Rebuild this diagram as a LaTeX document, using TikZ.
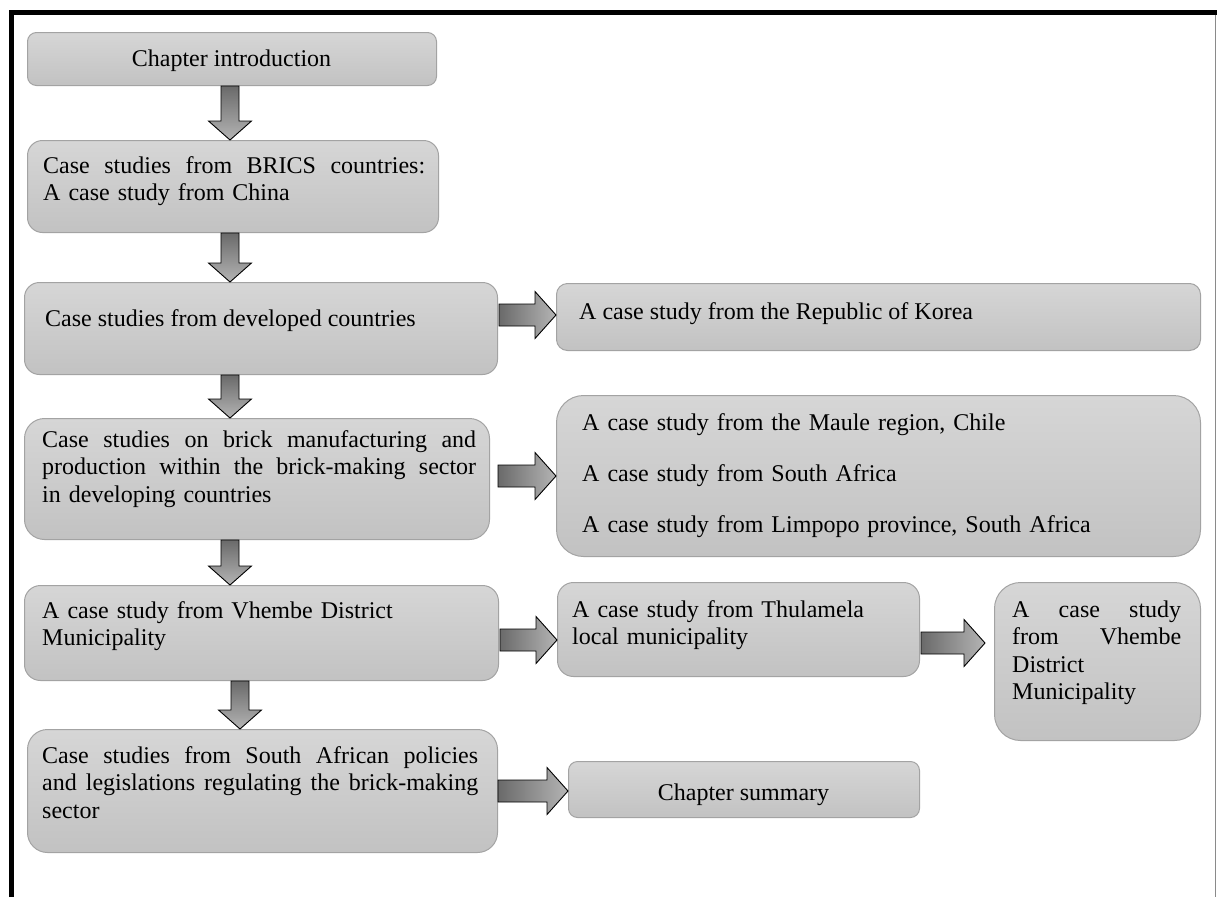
\documentclass[tikz,border=0pt]{standalone}
\usepackage{fontspec}
\setmainfont{Liberation Serif}
\usetikzlibrary{calc}
\definecolor{boxtop}{HTML}{D6D6D6}
\definecolor{boxbot}{HTML}{C2C2C2}
\definecolor{boxline}{HTML}{A3A3A3}
\definecolor{arrdark}{HTML}{6A6A6A}
\definecolor{arrlight}{HTML}{B4B4B4}
\definecolor{frameright}{HTML}{8A8A8A}
\newcommand\J[2]{\leavevmode\hbox to #1{\spaceskip=0.25em plus 1fil\relax\xspaceskip=0.25em plus 1fil\relax #2}}
\newcommand\blkdown[3]{%
  \coordinate (bdx) at (#3,0);
  \shadedraw[arrd] let \p1=(#1.south -| bdx), \p2=(#2.north -| bdx) in
    (\x1-9pt,\y1) -- (\x1+9pt,\y1) -- (\x1+9pt,\y2+19pt) -- (\x1+21.5pt,\y2+19pt)
    -- (\x2,\y2) -- (\x1-21.5pt,\y2+19pt) -- (\x1-9pt,\y2+19pt) -- cycle;}
\newcommand\blkright[5]{%
  \coordinate (bry) at (0,#3);
  \shadedraw[arrr] let \p1=(#1.east |- bry), \p2=(#2.west |- bry) in
    (\x1+#4,\y1-11pt) -- (\x2-#5-21pt,\y1-11pt) -- (\x2-#5-21pt,\y1-23.5pt)
    -- (\x2-#5,\y1) -- (\x2-#5-21pt,\y1+23.5pt) -- (\x2-#5-21pt,\y1+11pt)
    -- (\x1+#4,\y1+11pt) -- cycle;}
\tikzset{
  box/.style={rectangle, draw=boxline, line width=1pt, top color=boxtop,
    bottom color=boxbot, inner sep=0pt, anchor=north west},
  txt/.style={inner sep=0pt, anchor=base west, align=left,
    font=\fontsize{24}{27.5}\selectfont},
  arrd/.style={draw=black, line width=0.9pt, top color=arrdark,
    bottom color=arrlight, line join=miter},
  arrr/.style={draw=black, line width=0.9pt, left color=arrdark,
    right color=arrlight, line join=miter},
}
\begin{document}
\begin{tikzpicture}[x=1pt,y=-1pt]
\useasboundingbox (0,0) rectangle (1217,897);
% frame
\draw[line width=5pt, black] (11,897) -- (11,12) -- (1217,12);
\draw[line width=1.2pt, frameright] (1215.5,14.5) -- (1215.5,897);

% left column boxes
\node[box, minimum width=409pt, minimum height=53pt, rounded corners=9pt] (b1) at (27,32) {};
\node[txt, anchor=base] (t1) at (231.5,66) {Chapter introduction};

\node[box, minimum width=411pt, minimum height=92pt, rounded corners=15pt] (b2) at (27,140) {};
\node[txt, text width=382pt] (t2) at (43,173) {\J{382pt}{Case studies from BRICS countries:}\\A case study from China};

\node[box, minimum width=473pt, minimum height=92pt, rounded corners=15pt] (b3) at (24,282) {};
\node[txt] (t3) at (45,326) {Case studies from developed countries};

\node[box, minimum width=465pt, minimum height=121pt, rounded corners=20pt] (b4) at (24,418) {};
\node[txt, text width=434pt] (t4) at (42,447) {\J{434pt}{Case studies on brick manufacturing and}\\\J{434pt}{production within the brick-making sector}\\in developing countries};

\node[box, minimum width=474pt, minimum height=95pt, rounded corners=16pt] (b5) at (24,585) {};
\node[txt, text width=440pt] (t5) at (42,618) {A case study from Vhembe District\\Municipality};

\node[box, minimum width=470pt, minimum height=123pt, rounded corners=20pt] (b6) at (27,729) {};
\node[txt, text width=436pt] (t6) at (42,763) {\J{436pt}{Case studies from South African policies}\\\J{436pt}{and legislations regulating the brick-making}\\sector};

% right column boxes
\node[box, minimum width=644pt, minimum height=67pt, rounded corners=11pt] (r1) at (556,283) {};
\node[txt] (u1) at (579,319) {A case study from the Republic of Korea};

\node[box, minimum width=644pt, minimum height=161pt, rounded corners=27pt] (r2) at (556,395) {};
\node[txt, text width=600pt] (u2) at (582,430) {A case study from the Maule region, Chile\\[23.5pt]A case study from South Africa\\[23.5pt]A case study from Limpopo province, South Africa};

\node[box, minimum width=362pt, minimum height=94pt, rounded corners=16pt] (r3) at (557,582) {};
\node[txt, text width=340pt] (u3) at (572,617) {A case study from Thulamela\\local municipality};

\node[box, minimum width=206pt, minimum height=158pt, rounded corners=26pt] (r4) at (994,582) {};
\node[txt, text width=169pt] (u4) at (1012,617) {\J{169pt}{A case study}\\\J{169pt}{from Vhembe}\\District\\Municipality};

\node[box, minimum width=351pt, minimum height=56pt, rounded corners=9pt] (r5) at (568,761) {};
\node[txt, anchor=base] (u5) at (743.5,800) {Chapter summary};

% block arrows
\blkdown{b1}{b2}{230}
\blkdown{b2}{b3}{230}
\blkdown{b3}{b4}{230}
\blkdown{b4}{b5}{230}
\blkdown{b5}{b6}{240}
\blkright{b3}{r1}{315}{1pt}{0pt}
\blkright{b4}{r2}{476}{8pt}{0pt}
\blkright{b5}{r3}{640}{1pt}{0pt}
\blkright{r3}{r4}{643}{1pt}{9pt}
\blkright{b6}{r5}{791}{0pt}{0pt}
\end{tikzpicture}
\end{document}
